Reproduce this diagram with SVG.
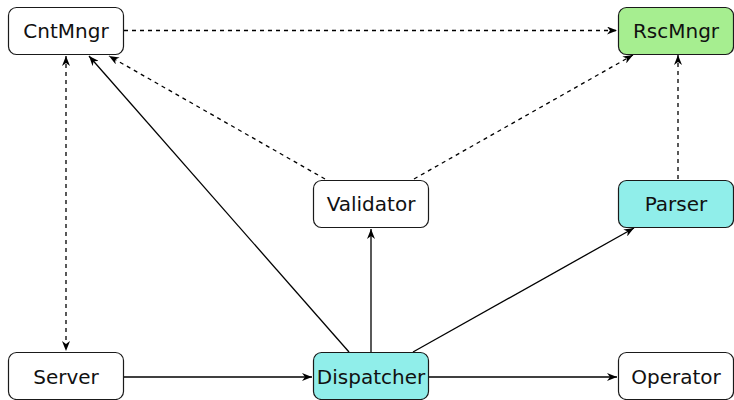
<svg xmlns="http://www.w3.org/2000/svg" width="734" height="400" viewBox="0 0 734 400">
  <style>
    .box { stroke: #1a1a1a; stroke-width: 1.2; fill: #ffffff; }
    .cyan { fill: #90eeea; }
    .green { fill: #a6ee90; }
    .lbl { font-family: "DejaVu Sans", sans-serif; font-size: 20px; fill: #111; text-anchor: middle; dominant-baseline: central; }
    .edge { stroke: #000; stroke-width: 1.3; fill: none; marker-end: url(#arr); }
    .dash { stroke-dasharray: 4 4; }
    .both { marker-start: url(#arrs); }
  </style>
  <defs>
    <marker id="arr" viewBox="0 0 10 8" refX="10" refY="4" markerWidth="10" markerHeight="8" markerUnits="userSpaceOnUse" orient="auto">
      <path d="M0,0 L10,4 L0,8 L3,4 Z" fill="#000"/>
    </marker>
    <marker id="arrs" viewBox="0 0 10 8" refX="10" refY="4" markerWidth="10" markerHeight="8" markerUnits="userSpaceOnUse" orient="auto-start-reverse">
      <path d="M0,0 L10,4 L0,8 L3,4 Z" fill="#000"/>
    </marker>
  </defs>

  <g id="connectors">
    <line class="edge dash" x1="124" y1="30.5" x2="617" y2="30.5"/>
    <line class="edge dash both" x1="66" y1="56" x2="66" y2="351"/>
    <line class="edge" x1="349" y1="352" x2="89" y2="56"/>
    <line class="edge dash" x1="325" y1="179" x2="109" y2="56"/>
    <line class="edge dash" x1="414" y1="179" x2="633" y2="55"/>
    <line class="edge dash" x1="678" y1="179" x2="678" y2="55"/>
    <line class="edge" x1="371" y1="352" x2="371" y2="229"/>
    <line class="edge" x1="413" y1="352" x2="634" y2="228"/>
    <line class="edge" x1="123" y1="377" x2="312" y2="377"/>
    <line class="edge" x1="429" y1="377" x2="617" y2="377"/>
  </g>

  <g id="CntMngr">
    <rect class="box" x="8.5" y="7.5" width="115" height="47" rx="8"/>
    <text class="lbl" x="66" y="31">CntMngr</text>
  </g>
  <g id="RscMngr">
    <rect class="box green" x="618.5" y="7.5" width="115" height="47" rx="8"/>
    <text class="lbl" x="676" y="31">RscMngr</text>
  </g>
  <g id="Validator">
    <rect class="box" x="313.5" y="180.5" width="115" height="47" rx="8"/>
    <text class="lbl" x="371" y="204">Validator</text>
  </g>
  <g id="Parser">
    <rect class="box cyan" x="618.5" y="180.5" width="115" height="47" rx="8"/>
    <text class="lbl" x="676" y="204">Parser</text>
  </g>
  <g id="Server">
    <rect class="box" x="8.5" y="352.5" width="115" height="47" rx="8"/>
    <text class="lbl" x="66" y="377">Server</text>
  </g>
  <g id="Dispatcher">
    <rect class="box cyan" x="313.5" y="352.5" width="115" height="47" rx="8"/>
    <text class="lbl" x="371" y="377">Dispatcher</text>
  </g>
  <g id="Operator">
    <rect class="box" x="618.5" y="352.5" width="115" height="47" rx="8"/>
    <text class="lbl" x="676" y="377">Operator</text>
  </g>
</svg>
